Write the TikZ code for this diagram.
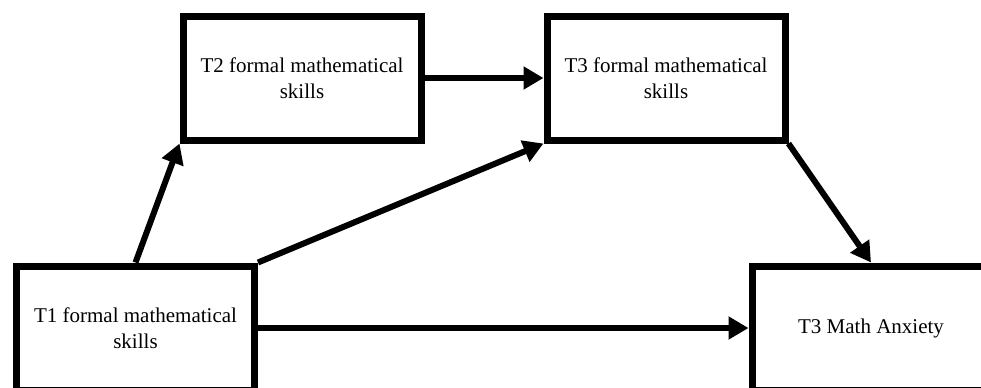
\documentclass[tikz,border=0pt]{standalone}
\usepackage{fontspec}
\setmainfont{Liberation Serif}
\usetikzlibrary{arrows.meta}

\begin{document}
\begin{tikzpicture}[x=0.5pt, y=-0.5pt,
    box/.style={draw, line width=3.5pt, minimum width=119pt, minimum height=62pt,
        inner sep=0pt, align=center, font=\fontsize{10.5}{12.8}\selectfont},
    arrow/.style={line width=3pt, -{Triangle[length=10pt,width=11pt]}}]

    % Frame of the picture (boxes at the edge are cut off)
    \clip (0,0) rectangle (981,387);

    % Draw the boxes
    \node[box] (t2) at (302,78) {T2 formal mathematical\\skills};
    \node[box] (t3f) at (666,78) {T3 formal mathematical\\skills};
    \node[box] (t1) at (135.5,328) {T1 formal mathematical\\skills};
    \node[box] (t3a) at (871,328) {T3 Math Anxiety};

    % Draw the paths
    \draw[arrow] (t1.north) -- (t2.south west);
    \draw[arrow] (t1.north east) -- (t3f.south west);
    \draw[arrow] (t1.east) -- (t3a.west);
    \draw[arrow] (t2.east) -- (t3f.west);
    \draw[arrow] (t3f.south east) -- (t3a.north);

\end{tikzpicture}
\end{document}
